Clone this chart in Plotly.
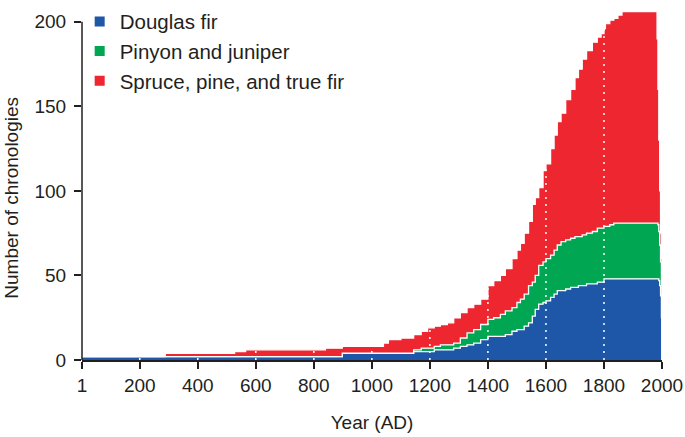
import plotly.graph_objects as go

# Step breakpoints (year AD) and number of chronologies per group
years = [1, 288, 527, 565, 840, 898, 1040, 1057, 1100, 1144, 1170, 1192, 1215, 1236,
         1260, 1282, 1305, 1328, 1351, 1375, 1400, 1420, 1443, 1460, 1483, 1500, 1512,
         1525, 1540, 1553, 1563, 1575, 1590, 1600, 1616, 1628, 1639, 1652, 1668, 1685,
         1700, 1712, 1725, 1740, 1760, 1777, 1790, 1800, 1805, 1820, 1834, 1848, 1862,
         1980, 1983, 1986, 1989, 1992, 1995, 1998, 2000]

douglas_fir = [2, 2, 2, 2, 2, 4, 4, 4, 4, 5, 5, 5, 6, 6,
               6, 7, 8, 9, 10, 12, 14, 14, 14, 15, 17, 18, 18,
               20, 22, 26, 30, 33, 34, 35, 37, 39, 41, 41, 42, 43,
               43, 44, 44, 45, 45, 46, 46, 48, 48, 48, 48, 48, 48,
               48, 48, 48, 47, 44, 38, 25, 0]

pinyon_juniper = [0, 0, 0, 0, 0, 0, 0, 0, 0, 1, 2, 2, 2, 3,
                  3, 3, 5, 7, 8, 9, 10, 11, 13, 14, 14, 16, 18,
                  19, 22, 20, 20, 23, 24, 25, 25, 26, 27, 29, 29, 29,
                  30, 29, 30, 30, 31, 32, 32, 31, 31, 32, 33, 33, 33,
                  33, 33, 32, 29, 24, 20, 20, 0]

spruce_pine_fir = [0, 2, 3, 4, 5, 4, 6, 8, 9, 9, 10, 12, 12, 12,
                   13, 15, 15, 15, 15, 15, 20, 22, 23, 25, 29, 31, 33,
                   36, 38, 46, 46, 46, 54, 56, 63, 68, 73, 76, 83, 88,
                   94, 99, 104, 108, 112, 113, 115, 117, 120, 121, 121, 123, 125,
                   125, 109, 80, 54, 32, 17, 15, 0]

series_names = ["Douglas fir", "Pinyon and juniper", "Spruce, pine, and true fir"]
series_colors = ["#1F57A8", "#00A651", "#ED2630"]

x_ticks = [1, 200, 400, 600, 800, 1000, 1200, 1400, 1600, 1800, 2000]
x_grid = [200, 400, 600, 800, 1000, 1200, 1400, 1600, 1800]
y_ticks = [0, 50, 100, 150, 200]

FONT = "Liberation Sans, Arial, Helvetica, sans-serif"

fig = go.Figure()
for name, vals, col in zip(series_names, [douglas_fir, pinyon_juniper, spruce_pine_fir], series_colors):
    fig.add_trace(go.Scatter(
        x=years, y=vals, mode="lines", stackgroup="one", name=name,
        line=dict(color="white", width=1.3, shape="hv"),
        fillcolor=col, showlegend=False, hoverinfo="skip"))

# legend-only entries with small square markers
for name, col in zip(series_names, series_colors):
    fig.add_trace(go.Scatter(
        x=[None], y=[None], mode="markers", name=name,
        marker=dict(symbol="square", size=10, color=col), showlegend=True))

# dotted white verticals at tick years, drawn over the fills
for gx in x_grid:
    fig.add_shape(type="line", xref="x", yref="paper", x0=gx, x1=gx, y0=0, y1=1,
                  line=dict(color="white", width=1.5, dash="2px,5px"), layer="above")

# y axis line only spanning 0..200
fig.add_shape(type="line", xref="paper", yref="y", x0=0, x1=0, y0=y_ticks[0], y1=y_ticks[-1],
              line=dict(color="#231F20", width=1.5), layer="above")

fig.add_annotation(text="Number of chronologies", xref="paper", yref="y", x=0, y=96,
                   xanchor="center", yanchor="middle", xshift=-70, textangle=-90,
                   showarrow=False, font=dict(family=FONT, size=19, color="#231F20"))

fig.update_layout(
    width=685, height=437,
    margin=dict(l=82, r=23, t=2, b=77),
    paper_bgcolor="white", plot_bgcolor="white",
    font=dict(family=FONT, size=19, color="#231F20"),
    showlegend=True,
    legend=dict(x=-0.004, y=1.024, xanchor="left", yanchor="top", traceorder="normal",
                font=dict(family=FONT, size=20.5, color="#231F20"),
                bgcolor="rgba(0,0,0,0)", itemwidth=30, tracegroupgap=0),
    xaxis=dict(range=[1, 2000], tickmode="array", tickvals=x_ticks,
               ticktext=[str(v) for v in x_ticks], showgrid=False, zeroline=False,
               showline=True, linecolor="#231F20", linewidth=1.5,
               ticks="outside", ticklen=7, tickwidth=1.5, tickcolor="#231F20",
               title=dict(text="Year (AD)", standoff=21, font=dict(size=19))),
    yaxis=dict(range=[0, 207], tickmode="array", tickvals=y_ticks,
               showgrid=False, zeroline=False, showline=False,
               ticks="outside", ticklen=7, tickwidth=1.5, tickcolor="#231F20",
               ticklabelstandoff=4),
)

fig.write_html("out.html", config={"displayModeBar": False},
               post_script="document.body.style.margin='0';document.body.style.overflow='hidden';")
